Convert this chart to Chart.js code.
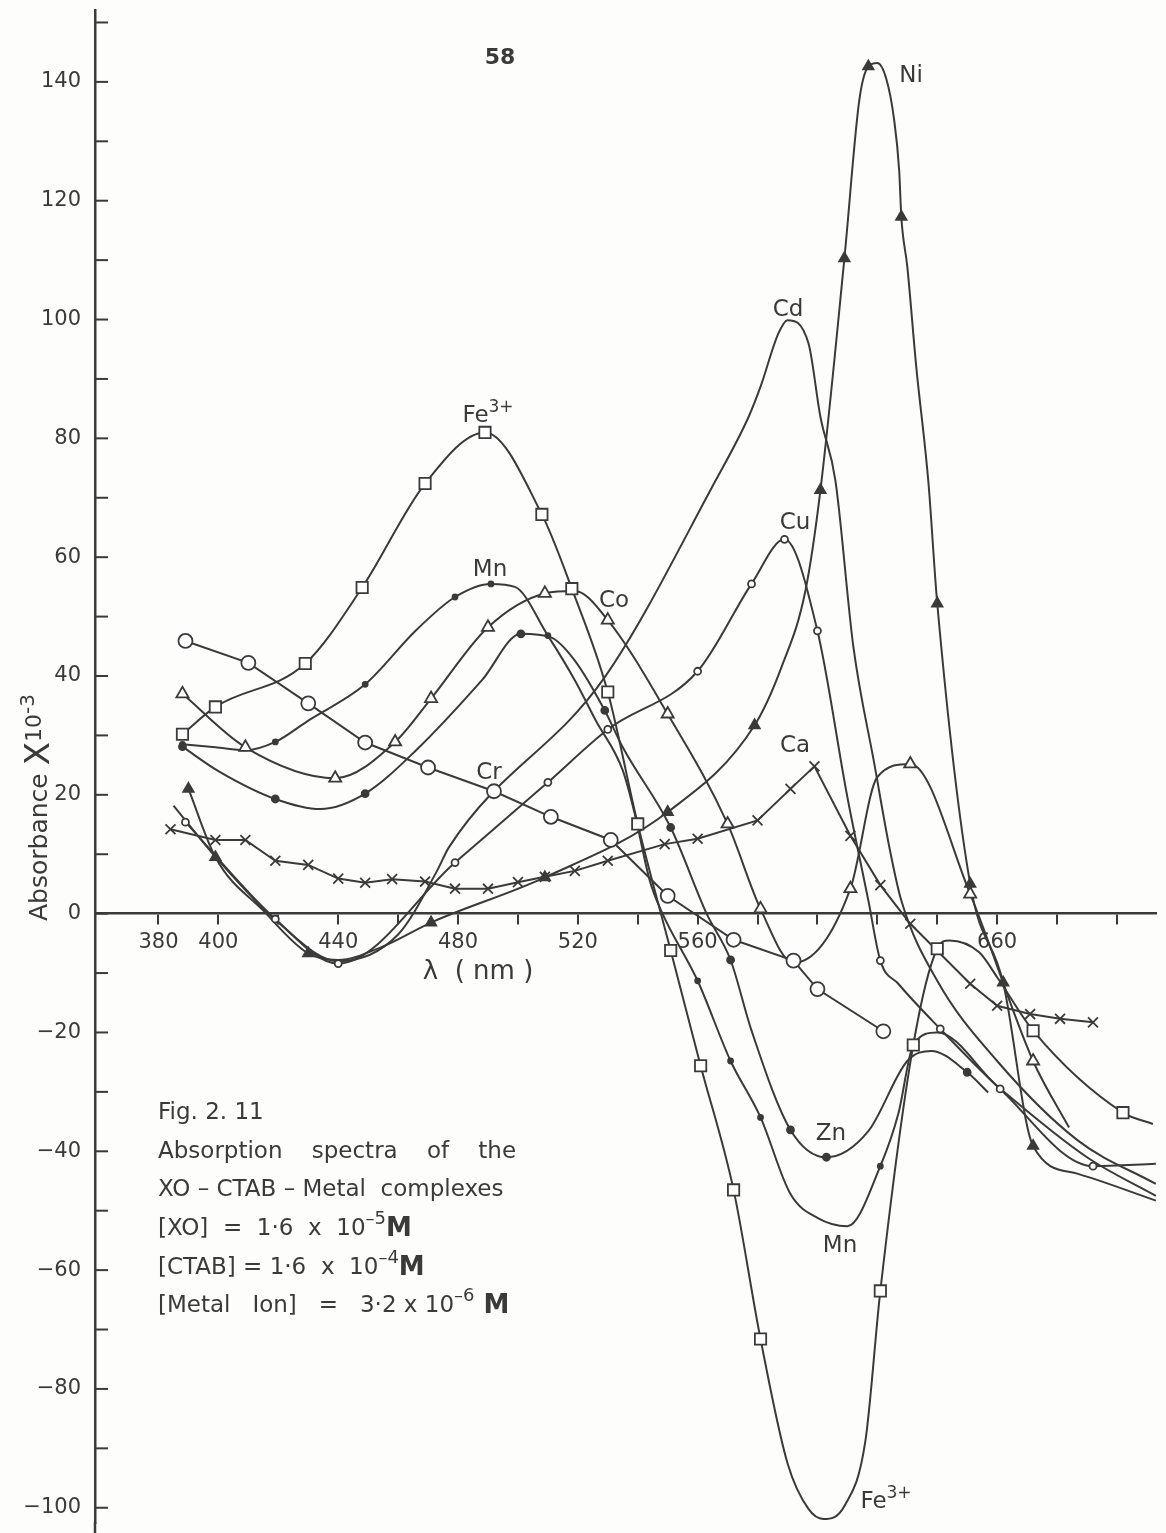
<!DOCTYPE html>
<html>
<head>
<meta charset="utf-8">
<script src="https://cdn.jsdelivr.net/npm/chart.js@4.4.1/dist/chart.umd.min.js"></script>
<style>
  html, body { margin: 0; padding: 0; background: #fdfdfc; }
  #wrap { position: relative; width: 1166px; height: 1533px; }
</style>
</head>
<body>
<div id="wrap"><canvas id="spectra"></canvas></div>
<script>
// Absorbance (x10^-3) against wavelength (nm), one set per metal ion.
// *Nm / *Abs are the plotted (marked) readings, *TraceNm / *TraceAbs are
// extra points along the hand-drawn curves between or beyond the marks.

const feNm  = [388, 399, 429, 448, 469, 489, 508, 518, 530, 540, 551, 561, 572, 581, 621, 632, 640, 672, 702];
const feAbs = [30.2, 34.8, 42.1, 54.9, 72.4, 81.0, 67.2, 54.7, 37.3, 15.1, -6.2, -25.6, -46.5, -71.6, -63.5, -22.1, -5.9, -19.7, -33.5];
const feTraceNm  = [590, 597, 602, 609, 616, 644, 654, 660, 712];
const feTraceAbs = [-92.5, -100.2, -101.9, -99.7, -88.8, -4.5, -6.5, -10.7, -35.4];

const crNm  = [389, 410, 430, 449, 470, 492, 511, 531, 550, 572, 592, 600, 622];
const crAbs = [45.9, 42.2, 35.4, 28.8, 24.6, 20.6, 16.3, 12.4, 3.0, -4.4, -7.9, -12.7, -19.8];

const coNm  = [388, 409, 439, 459, 471, 490, 509, 530, 550, 570, 581, 611, 631, 651, 672];
const coAbs = [37.0, 28.0, 22.8, 28.9, 36.2, 48.2, 53.9, 49.4, 33.6, 15.1, 0.8, 4.2, 25.2, 3.3, -24.8];
const coTraceNm  = [519, 592, 620, 684];
const coTraceAbs = [54.3, -8.3, 23.0, -36.0];

const caNm  = [384, 399, 409, 419, 430, 440, 449, 458, 469, 479, 490, 500, 509, 519, 530, 549, 560, 580, 591, 599, 611, 621, 631, 651, 660, 671, 681, 692];
const caAbs = [14.2, 12.4, 12.4, 8.9, 8.2, 5.9, 5.2, 5.8, 5.4, 4.2, 4.2, 5.3, 6.2, 7.2, 8.9, 11.7, 12.6, 15.7, 21.0, 24.8, 13.1, 4.8, -1.7, -11.8, -15.5, -16.9, -17.7, -18.3];

const niNm  = [390, 399, 430, 471, 509, 550, 579, 601, 609, 617, 628, 640, 651, 662, 672];
const niAbs = [21.0, 9.5, -6.7, -1.5, 6.1, 17.1, 31.7, 71.3, 110.3, 142.6, 117.3, 52.2, 5.0, -11.6, -39.1];
const niTraceNm  = [415, 440, 455, 588, 596, 614, 620, 623, 625.5, 627.3, 630, 633, 637, 687, 713];
const niTraceAbs = [0.5, -7.8, -5.5, 41.5, 54.4, 137.0, 143.2, 140.5, 134.0, 125.0, 108.9, 92.0, 72.9, -43.8, -48.3];

const cuNm  = [389, 419, 440, 479, 510, 530, 560, 578, 589, 600, 621, 641, 661, 692];
const cuAbs = [15.4, -0.9, -8.4, 8.6, 22.1, 31.0, 40.8, 55.5, 63.0, 47.6, -7.9, -19.4, -29.5, -42.5];
const cuTraceNm  = [610, 617, 627, 713];
const cuTraceAbs = [19.6, 2.2, -11.8, -42.1];

const cdNm  = [385, 400, 420, 440, 460, 473, 477, 529, 566, 577, 581, 587, 590, 597, 601, 606, 612, 619, 624, 628, 640, 660, 687, 713];
const cdAbs = [18.2, 9.0, -1.5, -8.0, -3.5, 7.2, 11.2, 39.8, 72.9, 83.6, 88.7, 97.7, 99.9, 96.0, 83.6, 72.9, 44.9, 25.2, 11.2, 2.2, -11.3, -24.8, -38.2, -45.5];

const mnNm  = [388, 419, 449, 479, 491, 510, 560, 571, 581, 621];
const mnAbs = [28.5, 28.9, 38.6, 53.3, 55.5, 46.8, -11.3, -24.8, -34.3, -42.5];
const mnTraceNm  = [399, 409, 430, 466, 499, 519, 526, 535, 539, 544, 548, 591, 600, 610, 627, 632, 640, 660, 690, 713];
const mnTraceAbs = [28.0, 27.5, 32.5, 47.7, 55.0, 39.3, 32.5, 24.1, 16.8, 5.6, 0.3, -47.2, -51.2, -52.6, -33.7, -22.1, -20.0, -29.0, -41.0, -47.5];

const znNm  = [388, 419, 449, 501, 529, 551, 571, 591, 603, 650];
const znAbs = [28.1, 19.3, 20.2, 47.1, 34.2, 14.5, -7.8, -36.4, -41.0, -26.7];
const znTraceNm  = [400, 434, 466, 488, 511, 519, 535, 563, 578, 617, 630, 638, 657];
const znTraceAbs = [24.0, 17.6, 27.5, 39.3, 46.5, 42.6, 28.0, 0.0, -19.7, -36.6, -24.8, -23.1, -30.1];

// axis ticks
const xTicks = [380, 400, 420, 440, 460, 480, 500, 520, 540, 560, 580, 600, 620, 640, 660, 680, 700];
const xTickLabels = [380, 400, 440, 480, 520, 560, 660];
const yTicks = [-100, -90, -80, -70, -60, -50, -40, -30, -20, -10, 0, 10, 20, 30, 40, 50, 60, 70, 80, 90, 100, 110, 120, 130, 140, 150];
const yTickLabels = [-100, -80, -60, -40, -20, 0, 20, 40, 60, 80, 100, 120, 140];

const ink = '#3a3a3a';
const face = '"DejaVu Sans", sans-serif';

function pts(nm, abs) {
  return nm.map((x, i) => ({ x: x, y: abs[i] }));
}
function curve(nm, abs, traceNm, traceAbs) {
  return pts(nm, abs).concat(pts(traceNm || [], traceAbs || [])).sort((a, b) => a.x - b.x);
}

const series = [
  { line: curve(feNm, feAbs, feTraceNm, feTraceAbs), marks: pts(feNm, feAbs), style: 'rect', r: 8, fill: '#fff' },
  { line: curve(crNm, crAbs), marks: pts(crNm, crAbs), style: 'circle', r: 7, fill: '#fff', straight: true },
  { line: curve(coNm, coAbs, coTraceNm, coTraceAbs), marks: pts(coNm, coAbs), style: 'triangle', r: 7, fill: '#fff' },
  { line: curve(caNm, caAbs), marks: pts(caNm, caAbs), style: 'crossRot', r: 7, fill: ink, straight: true },
  { line: curve(niNm, niAbs, niTraceNm, niTraceAbs), marks: pts(niNm, niAbs), style: 'triangle', r: 6, fill: ink },
  { line: curve(cuNm, cuAbs, cuTraceNm, cuTraceAbs), marks: pts(cuNm, cuAbs), style: 'circle', r: 3.5, fill: '#fff' },
  { line: curve(cdNm, cdAbs), marks: [], style: 'circle', r: 0, fill: ink },
  { line: curve(mnNm, mnAbs, mnTraceNm, mnTraceAbs), marks: pts(mnNm, mnAbs), style: 'circle', r: 2.5, fill: ink },
  { line: curve(znNm, znAbs, znTraceNm, znTraceAbs), marks: pts(znNm, znAbs), style: 'circle', r: 3.5, fill: ink }
];

const datasets = [];
series.forEach(s => {
  datasets.push({
    data: s.line,
    showLine: true,
    pointRadius: 0,
    borderColor: ink,
    borderWidth: 2,
    tension: 0,
    cubicInterpolationMode: s.straight ? 'default' : 'monotone',
    order: 2
  });
  datasets.push({
    data: s.marks,
    showLine: false,
    pointStyle: s.style,
    pointRadius: s.r,
    pointBackgroundColor: s.fill,
    pointBorderColor: ink,
    pointBorderWidth: 1.8,
    order: 1
  });
});

// writes a run of text pieces [text, size, raise, weight] starting at x
function drawRun(ctx, x, y, parts, align) {
  const widths = parts.map(p => {
    ctx.font = (p[3] || 'normal') + ' ' + p[1] + 'px ' + face;
    return ctx.measureText(p[0]).width;
  });
  const total = widths.reduce((a, b) => a + b, 0);
  let cx = align === 'center' ? x - total / 2 : x;
  parts.forEach((p, i) => {
    ctx.font = (p[3] || 'normal') + ' ' + p[1] + 'px ' + face;
    ctx.fillText(p[0], cx, y - (p[2] || 0));
    cx += widths[i];
  });
}

const decorations = {
  id: 'decorations',
  afterDraw(chart) {
    const ctx = chart.ctx;
    const y = chart.scales.y;
    const area = chart.chartArea;
    const left = area.left;
    ctx.save();

    // carry the absorbance axis down to the page edge
    ctx.strokeStyle = ink;
    ctx.lineWidth = 2.5;
    ctx.beginPath();
    ctx.moveTo(left, area.bottom - 1);
    ctx.lineTo(left, chart.height);
    ctx.stroke();

    // tick marks on the absorbance axis point into the plot
    ctx.lineWidth = 2;
    yTicks.forEach(v => {
      const py = y.getPixelForValue(v);
      ctx.beginPath();
      ctx.moveTo(left, py);
      ctx.lineTo(left + 13, py);
      ctx.stroke();
    });

    ctx.fillStyle = ink;
    ctx.textBaseline = 'middle';
    ctx.textAlign = 'left';

    // page number
    drawRun(ctx, 500, 58, [['58', 22, 0, 'bold']], 'center');

    // axis titles
    drawRun(ctx, 478, 972, [['λ  ( nm )', 26]], 'center');
    ctx.save();
    ctx.translate(40, 921);
    ctx.rotate(-Math.PI / 2);
    drawRun(ctx, 0, 0, [['Absorbance ', 25], ['X', 34], ['10', 22, 5], ['-3', 20, 11]], 'left');
    ctx.restore();

    // curve names
    const names = [
      [[['Fe', 23], ['3+', 17, 8]], 488, 416],
      [[['Mn', 23]], 490, 570],
      [[['Co', 23]], 614, 601],
      [[['Cr', 23]], 489, 773],
      [[['Cd', 23]], 788, 310],
      [[['Cu', 23]], 795, 523],
      [[['Ca', 23]], 795, 746],
      [[['Ni', 23]], 911, 76],
      [[['Zn', 23]], 831, 1134],
      [[['Mn', 23]], 840, 1246],
      [[['Fe', 23], ['3+', 17, 8]], 886, 1502]
    ];
    names.forEach(n => drawRun(ctx, n[1], n[2], n[0], 'center'));

    // caption block
    const cx = 158;
    drawRun(ctx, cx, 1113, [['Fig. 2. 11', 23]]);
    drawRun(ctx, cx, 1152, [['Absorption    spectra    of    the', 23]]);
    drawRun(ctx, cx, 1190, [['XO – CTAB – Metal  complexes', 23]]);
    drawRun(ctx, cx, 1229, [['[XO]  =  1·6  x  10', 23], ['–5', 18, 10], ['M', 26, 0, 'bold']]);
    drawRun(ctx, cx, 1268, [['[CTAB] = 1·6  x  10', 23], ['–4', 18, 10], ['M', 26, 0, 'bold']]);
    drawRun(ctx, cx, 1306, [['[Metal   Ion]   =   3·2 x 10', 23], ['–6', 18, 10], [' M', 26, 0, 'bold']]);

    ctx.restore();
  }
};

new Chart(document.getElementById('spectra'), {
  type: 'scatter',
  data: { datasets: datasets },
  options: {
    responsive: true,
    maintainAspectRatio: false,
    animation: false,
    layout: { padding: { top: 10, right: 6, bottom: 0, left: 0 } },
    plugins: { legend: { display: false }, tooltip: { enabled: false } },
    scales: {
      x: {
        type: 'linear',
        position: { y: 0 },
        min: 358.8,
        max: 713.1,
        afterBuildTicks: s => { s.ticks = xTicks.map(v => ({ value: v })); },
        afterFit: s => { s.paddingLeft = 0; s.paddingRight = 0; s.height = 0; },
        ticks: {
          autoSkip: false,
          maxRotation: 0,
          padding: 6,
          color: ink,
          font: { family: face, size: 21 },
          callback: v => xTickLabels.includes(v) ? String(v) : ''
        },
        grid: { drawOnChartArea: false, tickLength: 10, color: ink, lineWidth: 2 },
        border: { color: ink, width: 2.5 }
      },
      y: {
        type: 'linear',
        min: -102.6,
        max: 152.1,
        afterBuildTicks: s => { s.ticks = yTicks.map(v => ({ value: v })); },
        afterFit: s => { s.width = 95; s.paddingTop = 0; s.paddingBottom = 0; },
        ticks: {
          autoSkip: false,
          padding: 14,
          color: ink,
          font: { family: face, size: 21 },
          callback: v => yTickLabels.includes(v) ? String(v).replace('-', '−') : ''
        },
        grid: { drawOnChartArea: false, drawTicks: false },
        border: { color: ink, width: 2.5 }
      }
    }
  },
  plugins: [decorations]
});
</script>
</body>
</html>
